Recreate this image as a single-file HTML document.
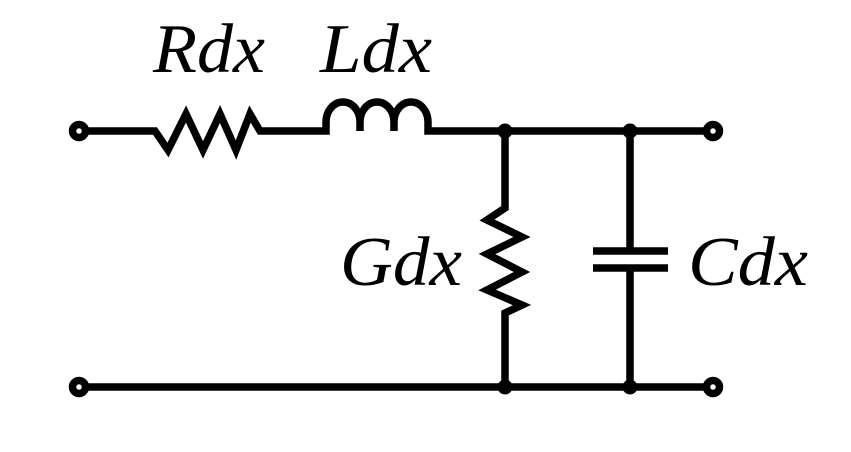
<!DOCTYPE html>
<html><head><meta charset="utf-8"><style>html,body{margin:0;padding:0;background:#fff}</style></head>
<body>
<svg width="851" height="447" viewBox="0 0 851 447" xmlns="http://www.w3.org/2000/svg">
<g fill="none" stroke="#000" stroke-width="7.5" stroke-linejoin="miter" stroke-linecap="butt">
<path d="M85,131 H155 L168,150 L186,114 L203,150 L220,114 L236,150 L250,114 L260,131 H326 V122 A17,20 0 0 1 360,122 V131 V122 A17,20 0 0 1 394,122 V131 V122 A17,20 0 0 1 428,122 V131 H707"/>
<path d="M85,387 H707"/>
<path d="M505,131 V208 L487,220 L522,237 L487,254 L522,272 L487,290 L522,305 L505,313 V387"/>
<path d="M630,131 V251 M630,268 V387"/>
<path d="M593,251 H668 M593,268 H668"/>
<circle cx="79" cy="131" r="6.5"/><circle cx="79" cy="387" r="6.5"/>
<circle cx="713" cy="131" r="6.5"/><circle cx="713" cy="387" r="6.5"/>
</g>
<g fill="#000"><circle cx="505" cy="131" r="7.5"/><circle cx="630" cy="131" r="7.5"/><circle cx="505" cy="387" r="7.5"/><circle cx="630" cy="387" r="7.5"/></g>
<g font-family="'Liberation Serif',serif" font-style="italic" font-size="70" fill="#000">
<text x="153" y="72" textLength="112" lengthAdjust="spacingAndGlyphs">Rdx</text>
<text x="320" y="72" textLength="112" lengthAdjust="spacingAndGlyphs">Ldx</text>
<text x="340" y="285" textLength="122" lengthAdjust="spacingAndGlyphs">Gdx</text>
<text x="688" y="285" textLength="120" lengthAdjust="spacingAndGlyphs">Cdx</text>
</g>
</svg>
</body></html>
